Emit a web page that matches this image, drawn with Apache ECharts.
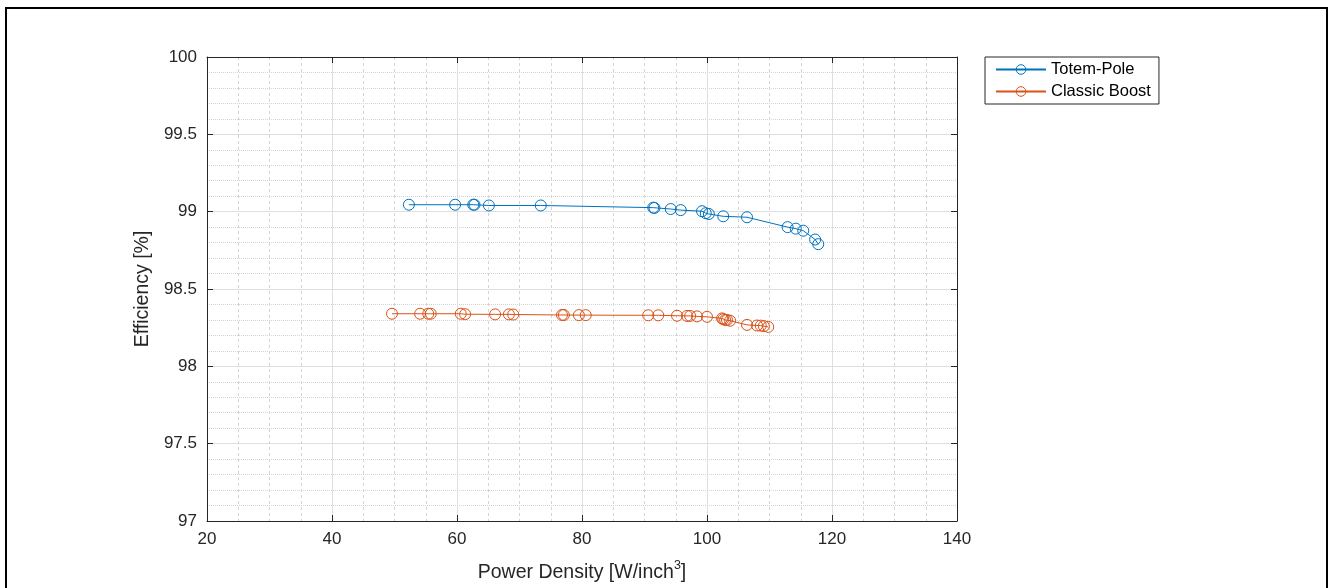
<!DOCTYPE html>
<html>
<head>
<meta charset="utf-8">
<script src="https://cdn.jsdelivr.net/npm/echarts@6/dist/echarts.min.js"></script>
<style>html,body{margin:0;padding:0;background:#fff;}#c{width:1332px;height:588px;}</style>
</head>
<body>
<div id="c"></div>
<script>
var seriesNames = ['Totem-Pole', 'Classic Boost'];
var totemX = [52.3, 59.7, 62.6, 62.8, 65.1, 73.4, 91.4, 91.6, 94.2, 95.8, 99.2, 99.8, 100.3, 102.6, 106.4, 112.9, 114.2, 115.4, 117.3, 117.8];
var totemY = [99.045, 99.045, 99.045, 99.045, 99.04, 99.04, 99.026, 99.024, 99.017, 99.01, 99.003, 98.99, 98.985, 98.97, 98.964, 98.90, 98.89, 98.877, 98.82, 98.79];
var boostX = [49.6, 54.1, 55.4, 55.8, 60.6, 61.3, 66.1, 68.3, 69.0, 76.8, 77.1, 79.5, 80.6, 90.6, 92.2, 95.2, 96.8, 97.3, 98.4, 100.0, 102.4, 102.6, 102.9, 103.2, 103.7, 106.4, 108.0, 108.6, 109.1, 109.8];
var boostY = [98.34, 98.34, 98.34, 98.34, 98.34, 98.337, 98.336, 98.336, 98.335, 98.332, 98.332, 98.331, 98.331, 98.33, 98.33, 98.327, 98.326, 98.326, 98.323, 98.32, 98.31, 98.305, 98.30, 98.30, 98.295, 98.268, 98.264, 98.263, 98.26, 98.255];
var xTicks = [20, 40, 60, 80, 100, 120, 140];
var yTicks = [97, 97.5, 98, 98.5, 99, 99.5, 100];

function pairs(xs, ys) { return xs.map(function (x, i) { return [x, ys[i]]; }); }

var colors = ['#0072BD', '#D95319'];
var chart = echarts.init(document.getElementById('c'), null, {renderer: 'canvas'});
var axisColor = '#262626';
var font = 'Liberation Sans, Arial, sans-serif';

function mkSeries(name, data, color) {
  return {
    name: name, type: 'line', data: data,
    xAxisIndex: 0, yAxisIndex: 0,
    symbol: 'circle', symbolSize: 11,
    showSymbol: true,
    lineStyle: {color: color, width: 1},
    itemStyle: {color: 'rgba(255,255,255,0)', borderColor: color, borderWidth: 1},
    emphasis: {disabled: true},
    animation: false, z: 3
  };
}

chart.setOption({
  animation: false,
  backgroundColor: '#fff',
  grid: {left: 207, top: 57, width: 750, height: 464, containLabel: false, outerBoundsMode: 'none'},
  legend: {
    orient: 'vertical', left: 985, top: 57,
    itemWidth: 50, itemHeight: 12, itemGap: 5,
    padding: [4, 8, 4, 10],
    borderColor: axisColor, borderWidth: 1, borderRadius: 0,
    backgroundColor: '#fff',
    textStyle: {fontSize: 16.5, fontFamily: font, color: '#000'},
    itemStyle: {borderWidth: 1},
    data: seriesNames
  },
  xAxis: [{
    type: 'value', min: xTicks[0], max: xTicks[xTicks.length - 1], interval: 20,
    position: 'bottom',
    name: '{main|Power Density [W/inch}{sup|3}{main|]}', nameLocation: 'middle', nameGap: 38,
    nameTextStyle: {fontSize: 19.5, fontFamily: font, color: axisColor, lineHeight: 28,
      rich: {
        main: {fontSize: 19.5, fontFamily: font, color: axisColor, lineHeight: 28, verticalAlign: 'middle'},
        sup: {fontSize: 12.5, fontFamily: font, color: axisColor, lineHeight: 14, verticalAlign: 'top'}
      }},
    axisLine: {show: true, lineStyle: {color: axisColor, width: 1}},
    axisTick: {show: true, inside: true, length: 6, lineStyle: {color: axisColor}},
    axisLabel: {fontSize: 17, fontFamily: font, color: axisColor, margin: 10},
    splitLine: {show: true, lineStyle: {color: '#dfdfdf', width: 1}},
    minorTick: {show: false, splitNumber: 4},
    minorSplitLine: {show: true, lineStyle: {color: '#d4d4d4', width: 1, type: [3, 3]}}
  }, {
    type: 'value', min: xTicks[0], max: xTicks[xTicks.length - 1], interval: 20,
    position: 'top',
    axisLine: {show: true, lineStyle: {color: axisColor, width: 1}},
    axisTick: {show: true, inside: true, length: 6, lineStyle: {color: axisColor}},
    axisLabel: {show: false}, splitLine: {show: false}
  }],
  yAxis: [{
    type: 'value', min: yTicks[0], max: yTicks[yTicks.length - 1], interval: 0.5,
    position: 'left',
    name: 'Efficiency [%]', nameLocation: 'middle', nameGap: 50, nameRotate: 90,
    nameTextStyle: {fontSize: 19.5, fontFamily: font, color: axisColor},
    axisLine: {show: true, lineStyle: {color: axisColor, width: 1}},
    axisTick: {show: true, inside: true, length: 6, lineStyle: {color: axisColor}},
    axisLabel: {fontSize: 17, fontFamily: font, color: axisColor, margin: 10},
    splitLine: {show: true, lineStyle: {color: '#dfdfdf', width: 1}},
    minorTick: {show: false, splitNumber: 5},
    minorSplitLine: {show: true, lineStyle: {color: '#d4d4d4', width: 1, type: [1, 1]}}
  }, {
    type: 'value', min: yTicks[0], max: yTicks[yTicks.length - 1], interval: 0.5,
    position: 'right',
    axisLine: {show: true, lineStyle: {color: axisColor, width: 1}},
    axisTick: {show: true, inside: true, length: 6, lineStyle: {color: axisColor}},
    axisLabel: {show: false}, splitLine: {show: false}
  }],
  series: [
    mkSeries(seriesNames[0], pairs(totemX, totemY), colors[0]),
    mkSeries(seriesNames[1], pairs(boostX, boostY), colors[1])
  ],
  graphic: [{
    type: 'rect', silent: true, z: 100,
    shape: {x: 6, y: 8, width: 1321, height: 600},
    style: {fill: 'none', stroke: '#000', lineWidth: 2}
  }]
});
</script>
</body>
</html>
